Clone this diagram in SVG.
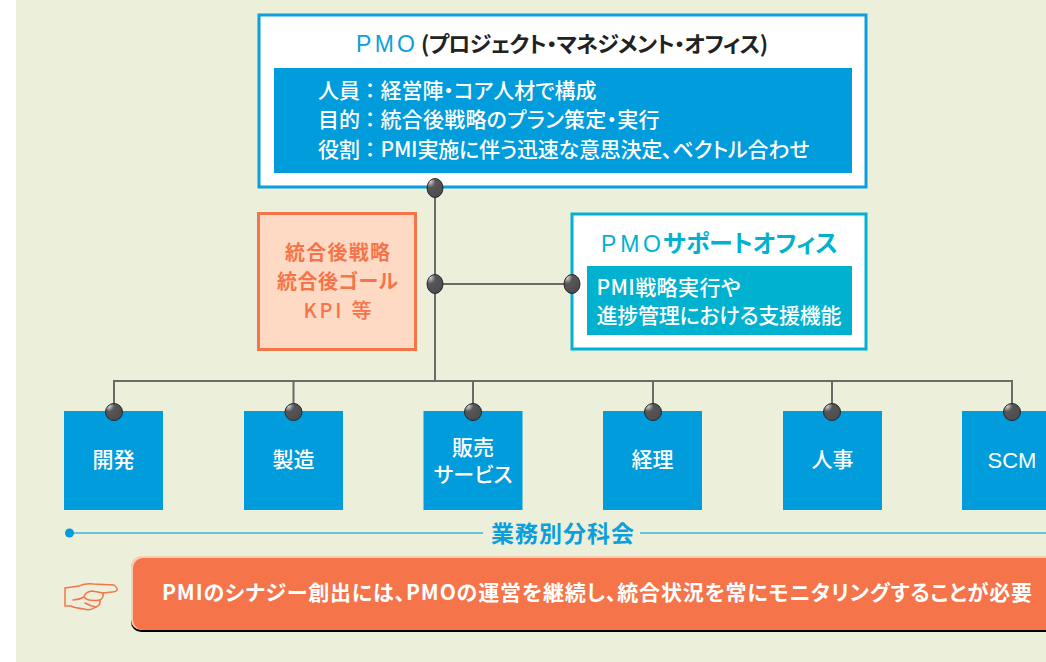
<svg xmlns="http://www.w3.org/2000/svg" width="1046" height="662" viewBox="0 0 1046 662">
<style>
text{font-family:"Noto Sans CJK JP","Liberation Sans",sans-serif;font-feature-settings:"palt"}
.lat{font-family:"Liberation Sans","Noto Sans CJK JP",sans-serif}
.w{fill:#fff}
.l{font-size:21px;font-weight:500}
.n{font-size:21px;font-weight:500;fill:#fff;text-anchor:middle}
.blk{fill:#009cdb}
.o{font-size:20px;font-weight:700;fill:#f5744a;text-anchor:middle}
.wire{fill:none;stroke:#6a6a66;stroke-width:2}
</style>
<defs>
<radialGradient id="pinG" cx="0.2" cy="0.15" r="0.95">
<stop offset="0" stop-color="#d8d8d8"/><stop offset="0.35" stop-color="#565658"/><stop offset="1" stop-color="#4c4c4e"/>
</radialGradient>
<circle id="pin" r="8.500" fill="url(#pinG)" stroke="#26262a" stroke-width="1"/>
<ellipse id="pinT" rx="8" ry="9.500" fill="url(#pinG)" stroke="#26262a" stroke-width="1"/>
</defs>
<rect width="1046" height="662" fill="#fff"/>
<rect x="16" width="1030" height="662" fill="#ecefd9"/>

<g id="connectors">
<path class="wire" d="M435 188V381M435 284H572M114 411V381H1012V411M293.500 381V411M473 381V411M653 381V411M832 381V411"/>
</g>

<g id="pmo">
<rect x="259" y="15" width="607" height="172" fill="#fff" stroke="#0d9fdc" stroke-width="3"/>
<rect x="274" y="68" width="578" height="105" class="blk"/>
<text x="356" y="52" class="lat" font-size="23" fill="#0d9fdc" textLength="59">PMO</text>
<text x="421" y="52" font-size="22" font-weight="700" fill="#222" textLength="347">(プロジェクト・マネジメント・オフィス)</text>
<text x="318" y="98" class="l w" textLength="42">人員</text><text x="370" y="98" class="l w" text-anchor="middle">：</text><text x="380.500" y="98" class="l w" textLength="216">経営陣・コア人材で構成</text>
<text x="318" y="127" class="l w" textLength="42">目的</text><text x="370" y="127" class="l w" text-anchor="middle">：</text><text x="380.500" y="127" class="l w" textLength="279">統合後戦略のプラン策定・実行</text>
<text x="318" y="157" class="l w" textLength="42">役割</text><text x="370" y="157" class="l w" text-anchor="middle">：</text><text x="380.500" y="157" class="l w" textLength="429">PMI実施に伴う迅速な意思決定、ベクトル合わせ</text>
</g>

<g id="goal">
<rect x="258.500" y="213.500" width="157" height="136" fill="#fed9c3" stroke="#f5744a" stroke-width="3"/>
<text x="337.500" y="260" class="o" textLength="105">統合後戦略</text>
<text x="337.500" y="289" class="o" textLength="121">統合後ゴール</text>
<text x="337.500" y="318" class="o" style="font-weight:500" textLength="68">KPI 等</text>
</g>

<g id="support">
<rect x="572" y="214" width="294" height="135" fill="#fff" stroke="#00b2cf" stroke-width="3"/>
<rect x="587" y="266" width="265" height="69" fill="#00b2cf"/>
<text x="601" y="252" class="lat" font-size="23" fill="#00b2cf" textLength="60">PMO</text>
<text x="663" y="252" font-size="24" font-weight="700" fill="#00b2cf" textLength="175">サポートオフィス</text>
<text x="596.500" y="295" class="l w" textLength="144">PMI戦略実行や</text>
<text x="596.500" y="323" class="l w" textLength="245">進捗管理における支援機能</text>
</g>

<g id="n1"><rect x="64" y="411" width="99" height="99" class="blk"/><text x="113.500" y="467" class="n">開発</text></g>
<g id="n2"><rect x="244" y="411" width="99" height="99" class="blk"/><text x="293.500" y="467" class="n">製造</text></g>
<g id="n3"><rect x="423.500" y="411" width="99" height="99" class="blk"/><text x="473" y="455" class="n">販売</text><text x="473" y="482" class="n">サービス</text></g>
<g id="n4"><rect x="603" y="411" width="99" height="99" class="blk"/><text x="652.500" y="467" class="n">経理</text></g>
<g id="n5"><rect x="783" y="411" width="99" height="99" class="blk"/><text x="832.500" y="467" class="n">人事</text></g>
<g id="n6"><rect x="962" y="411" width="99" height="99" class="blk"/><text x="1012" y="468" class="n lat" style="font-size:22px;font-weight:400">SCM</text></g>

<g id="pins">
<use href="#pinT" x="435" y="188"/>
<use href="#pinT" x="435" y="284"/>
<use href="#pinT" x="572" y="284"/>
<use href="#pin" x="114" y="412"/>
<use href="#pin" x="293.500" y="412"/>
<use href="#pin" x="473" y="412"/>
<use href="#pin" x="653" y="412"/>
<use href="#pin" x="832" y="412"/>
<use href="#pin" x="1012" y="412"/>
</g>

<g id="band">
<path d="M69 533H483M640 533H1046" fill="none" stroke="#3fb4dc" stroke-width="1.500"/>
<circle cx="69.500" cy="533" r="4.500" fill="#009cdb"/>
<text x="491" y="542" font-size="23" font-weight="700" fill="#0d9fdc" textLength="143">業務別分科会</text>
</g>

<g id="note">
<path d="M141 558H1046V632H141A10 10 0 0 1 131 622V568A10 10 0 0 1 141 558Z" fill="#000"/>
<path d="M141 556H1046V630H141A10 10 0 0 1 131 620V566A10 10 0 0 1 141 556Z" fill="#f9cdb4"/>
<path d="M143 558H1046V630H143A10 10 0 0 1 133 620V568A10 10 0 0 1 143 558Z" fill="#f5744a"/>
<text x="162" y="600" font-size="21" font-weight="700" fill="#fff" textLength="870">PMIのシナジー創出には、PMOの運営を継続し、統合状況を常にモニタリングすることが必要</text>
</g>

<g id="hand" fill="none" stroke="#f5744a" stroke-width="1.500" stroke-linecap="round" stroke-linejoin="round">
<path d="M65 588L79 586Q86 583 93 584L114 585Q118 588 117 590Q116 592 112 592L103 593Q104 598 100 600Q101 605 96 607Q90 611 84 609Q75 608 71 606L65 606Z"/>
<path d="M73 600Q79 600 84 597Q85 592 92 591L103 593M84 597Q88 602 100 600M85 603Q90 606 96 607"/>
</g>
</svg>
